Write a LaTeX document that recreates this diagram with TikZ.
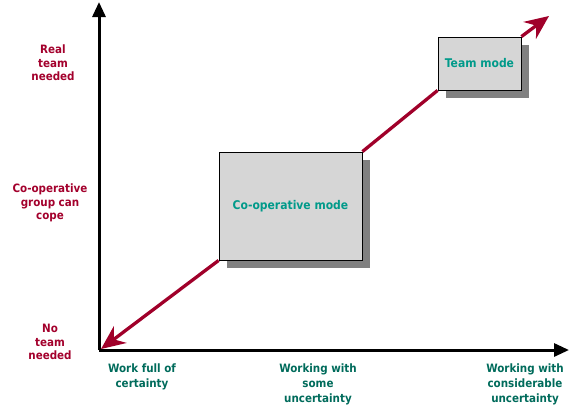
\documentclass[tikz,border=0pt]{standalone}
\usepackage{fontspec}
\setmainfont{DejaVu Sans Condensed}
\usetikzlibrary{arrows.meta,shadows}
\definecolor{lblred}{HTML}{A3002C}
\definecolor{lblteal}{HTML}{006B5B}
\definecolor{boxteal}{HTML}{009A8A}
\definecolor{boxgray}{HTML}{D6D6D6}
\definecolor{shadowgray}{HTML}{808080}
\definecolor{arrred}{HTML}{A0002A}
\tikzset{
  axisline/.style={line width=3pt, -{Triangle[length=15pt,width=13pt]}},
  modebox/.style={draw=black, line width=0.9pt, fill=boxgray, font=\bfseries\fontsize{12}{14}\selectfont, text=boxteal,
    drop shadow={shadow xshift=8pt, shadow yshift=-8pt, fill=shadowgray, opacity=1}},
  redline/.style={draw=arrred, line width=3.3pt},
  redtip/.style={-{Stealth[length=24pt,width=21pt,inset=8pt]}},
  ylab/.style={align=center, text=lblred, font=\bfseries\fontsize{11.5}{13.5}\selectfont},
  xlab/.style={align=center, text=lblteal, font=\bfseries\fontsize{11.5}{15}\selectfont},
}
\begin{document}
\begin{tikzpicture}[x=1pt,y=-1pt]
\useasboundingbox (0,0) rectangle (585,410);
\coordinate (origin) at (99,350);
\coordinate (ytip) at (99,2);
\coordinate (xtip) at (569,350);
\coordinate (lowtip) at (101,349);
\coordinate (hightip) at (549,16);
\draw[axisline] (origin) -- (ytip);
\draw[axisline] (origin) -- (xtip);
\node[modebox, minimum width=143pt, minimum height=108pt] (coop) at (290.5,206) {Co-operative mode};
\node[modebox, minimum width=83pt, minimum height=53pt] (team) at (479.5,63.5) {Team mode};
\draw[redline, redtip] (coop.south west) -- (lowtip);
\draw[redline] (coop.north east) -- (team.south west);
\draw[redline, redtip] (team.north east) -- (hightip);
\node[ylab] (real) at (53,63) {Real\\team\\needed};
\node[ylab] (coopgrp) at (50,203) {Co-operative\\group can\\cope};
\node[ylab] (noteam) at (50,342) {No\\team\\needed};
\node[xlab, anchor=north] (wfull) at (142,360) {Work full of\\certainty};
\node[xlab, anchor=north] (wsome) at (318,360) {Working with\\some\\uncertainty};
\node[xlab, anchor=north] (wcons) at (525,360) {Working with\\considerable\\uncertainty};
\end{tikzpicture}
\end{document}
